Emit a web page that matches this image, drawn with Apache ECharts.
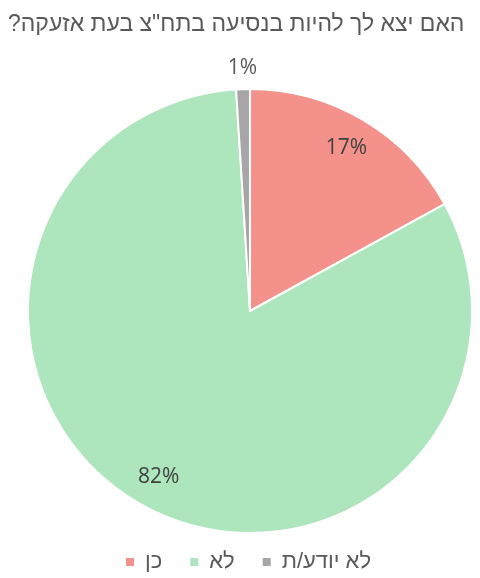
<!DOCTYPE html>
<html>
<head>
<meta charset="utf-8">
<script src="https://cdn.jsdelivr.net/npm/echarts@6/dist/echarts.min.js"></script>
<style>
html,body{margin:0;padding:0;background:#fff;}
#chart{width:480px;height:578px;}
</style>
</head>
<body>
<div id="chart" dir="rtl"></div>
<script>
const titleText = 'האם יצא לך להיות בנסיעה בתח"צ בעת אזעקה?';
const categories = ['כן', 'לא', 'לא יודע/ת'];
const values = [17, 82, 1];
const colors = ['#F4918A', '#ADE6BC', '#A6A6A6'];

const FONT = 'Liberation Sans, DejaVu Sans, sans-serif';
const R = 222;

const chart = echarts.init(document.getElementById('chart'), null, {renderer: 'canvas'});

const mainData = categories.map((c, i) => ({name: c, value: values[i], itemStyle: {color: colors[i]}}));
const innerLabelData = categories.map((c, i) => ({
  name: c, value: values[i],
  label: {show: values[i] >= 5}
}));
const outerLabelData = categories.map((c, i) => ({
  name: c, value: values[i],
  label: {show: values[i] < 5}
}));

const labelBase = {
  position: 'inside',
  formatter: p => p.value + '%',
  fontFamily: 'Open Sans, sans-serif',
  fontSize: 21,
  color: '#404040'
};

chart.setOption({
  backgroundColor: '#fff',
  animation: false,
  title: {
    text: titleText,
    left: 3,
    top: 8,
    textStyle: {fontFamily: FONT, fontSize: 23, fontWeight: 'normal', color: '#595959'}
  },
  legend: {
    data: categories,
    left: 119,
    bottom: 0,
    itemWidth: 10,
    itemHeight: 10,
    itemGap: 26,
    icon: 'rect',
    textStyle: {fontFamily: FONT, fontSize: 22, color: '#595959', padding: [0, 0, 0, 5]}
  },
  series: [
    {
      type: 'pie',
      name: 'main',
      center: [250, 311],
      radius: [0, R],
      startAngle: 90,
      clockwise: true,
      label: {show: false},
      labelLine: {show: false},
      itemStyle: {borderColor: '#fff', borderWidth: 2},
      emphasis: {disabled: true},
      data: mainData
    },
    {
      type: 'pie',
      name: 'innerLabels',
      silent: true,
      center: [250, 311],
      radius: [R * 0.68, R],
      startAngle: 90,
      clockwise: true,
      itemStyle: {color: 'rgba(0,0,0,0)'},
      label: Object.assign({}, labelBase),
      labelLine: {show: false},
      emphasis: {disabled: true},
      data: innerLabelData
    },
    {
      type: 'pie',
      name: 'outerLabels',
      silent: true,
      center: [250, 311],
      radius: [R, R + 36],
      startAngle: 90,
      clockwise: true,
      itemStyle: {color: 'rgba(0,0,0,0)'},
      label: Object.assign({}, labelBase, {color: '#595959'}),
      labelLine: {show: false},
      emphasis: {disabled: true},
      data: outerLabelData
    }
  ]
});
</script>
</body>
</html>
